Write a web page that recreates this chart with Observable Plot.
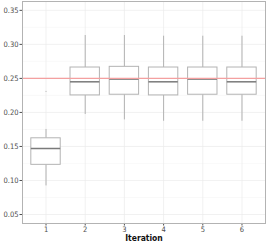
<!DOCTYPE html>
<html><head><meta charset="utf-8">
<script src="https://cdn.jsdelivr.net/npm/d3@7"></script>
<script src="https://cdn.jsdelivr.net/npm/@observablehq/plot@0.6"></script>
<style>
body{margin:0;background:#fff;}
svg{font-family:"Liberation Sans Narrow","DejaVu Sans Condensed","Liberation Sans",sans-serif;}
</style></head>
<body><div id="chart"></div>
<script>
const iterations = [1, 2, 3, 4, 5, 6];
const whiskerLow = [0.092, 0.197, 0.189, 0.187, 0.187, 0.187];
const q1 = [0.123, 0.225, 0.226, 0.225, 0.226, 0.226];
const median = [0.147, 0.245, 0.249, 0.245, 0.249, 0.245];
const q3 = [0.162, 0.266, 0.267, 0.266, 0.266, 0.266];
const whiskerHigh = [0.175, 0.313, 0.313, 0.312, 0.312, 0.312];
const outlierIter = [1];
const outlierVal = [0.231];
const refLine = [0.25];
const yTicks = [0.05, 0.10, 0.15, 0.20, 0.25, 0.30, 0.35];
const yMinor = [0.075, 0.125, 0.175, 0.225, 0.275, 0.325];

const boxes = iterations.map((it, i) => ({it, lo: whiskerLow[i], q1: q1[i], med: median[i], q3: q3[i], hi: whiskerHigh[i]}));
const outliers = outlierIter.map((it, i) => ({it, v: outlierVal[i]}));
const hw = 0.375;

const chart = Plot.plot({
  width: 266, height: 245,
  marginLeft: 22, marginRight: 1, marginTop: 1, marginBottom: 22,
  style: {fontSize: "7.5px", color: "#4d4d4d", background: "#fff"},
  x: {domain: [0.4, 6.6], ticks: iterations, tickFormat: d => String(d), tickSize: 2.5, tickPadding: 1, label: null},
  y: {domain: [0.0368, 0.363], ticks: yTicks, tickFormat: d3.format(".2f"), tickSize: 2.5, tickPadding: 1.5, label: null},
  marks: [
    Plot.gridY(yMinor, {stroke: "#ebebeb", strokeOpacity: 0.6, strokeWidth: 0.5}),
    Plot.gridY(yTicks, {stroke: "#ebebeb", strokeOpacity: 1, strokeWidth: 0.7}),
    Plot.gridX(iterations, {stroke: "#ebebeb", strokeOpacity: 1, strokeWidth: 0.7}),
    Plot.ruleX(boxes, {x: "it", y1: "lo", y2: "q1", stroke: "#b3b3b3", strokeWidth: 1}),
    Plot.ruleX(boxes, {x: "it", y1: "q3", y2: "hi", stroke: "#b3b3b3", strokeWidth: 1}),
    Plot.rect(boxes, {x1: d => d.it - hw, x2: d => d.it + hw, y1: "q1", y2: "q3", fill: "white", stroke: "#b3b3b3", strokeWidth: 1}),
    Plot.ruleY(boxes, {y: "med", x1: d => d.it - hw, x2: d => d.it + hw, stroke: "#7a7a7a", strokeWidth: 1.5}),
    Plot.dot(outliers, {x: "it", y: "v", r: 0.6, fill: "#b3b3b3", stroke: null}),
    Plot.ruleY(refLine, {stroke: "#f4a0a0", strokeWidth: 1.2}),
    Plot.frame({anchor: "top", stroke: "#b3b3b3"}),
    Plot.frame({anchor: "right", stroke: "#b3b3b3"}),
    Plot.frame({anchor: "bottom", stroke: "#b3b3b3"}),
    Plot.frame({anchor: "left", stroke: "#b3b3b3"}),
    Plot.text(["Iteration"], {frameAnchor: "bottom", dy: 17, fontWeight: "bold", fontSize: 8.5, fill: "#111"})
  ]
});
document.getElementById("chart").appendChild(chart);
</script></body></html>
